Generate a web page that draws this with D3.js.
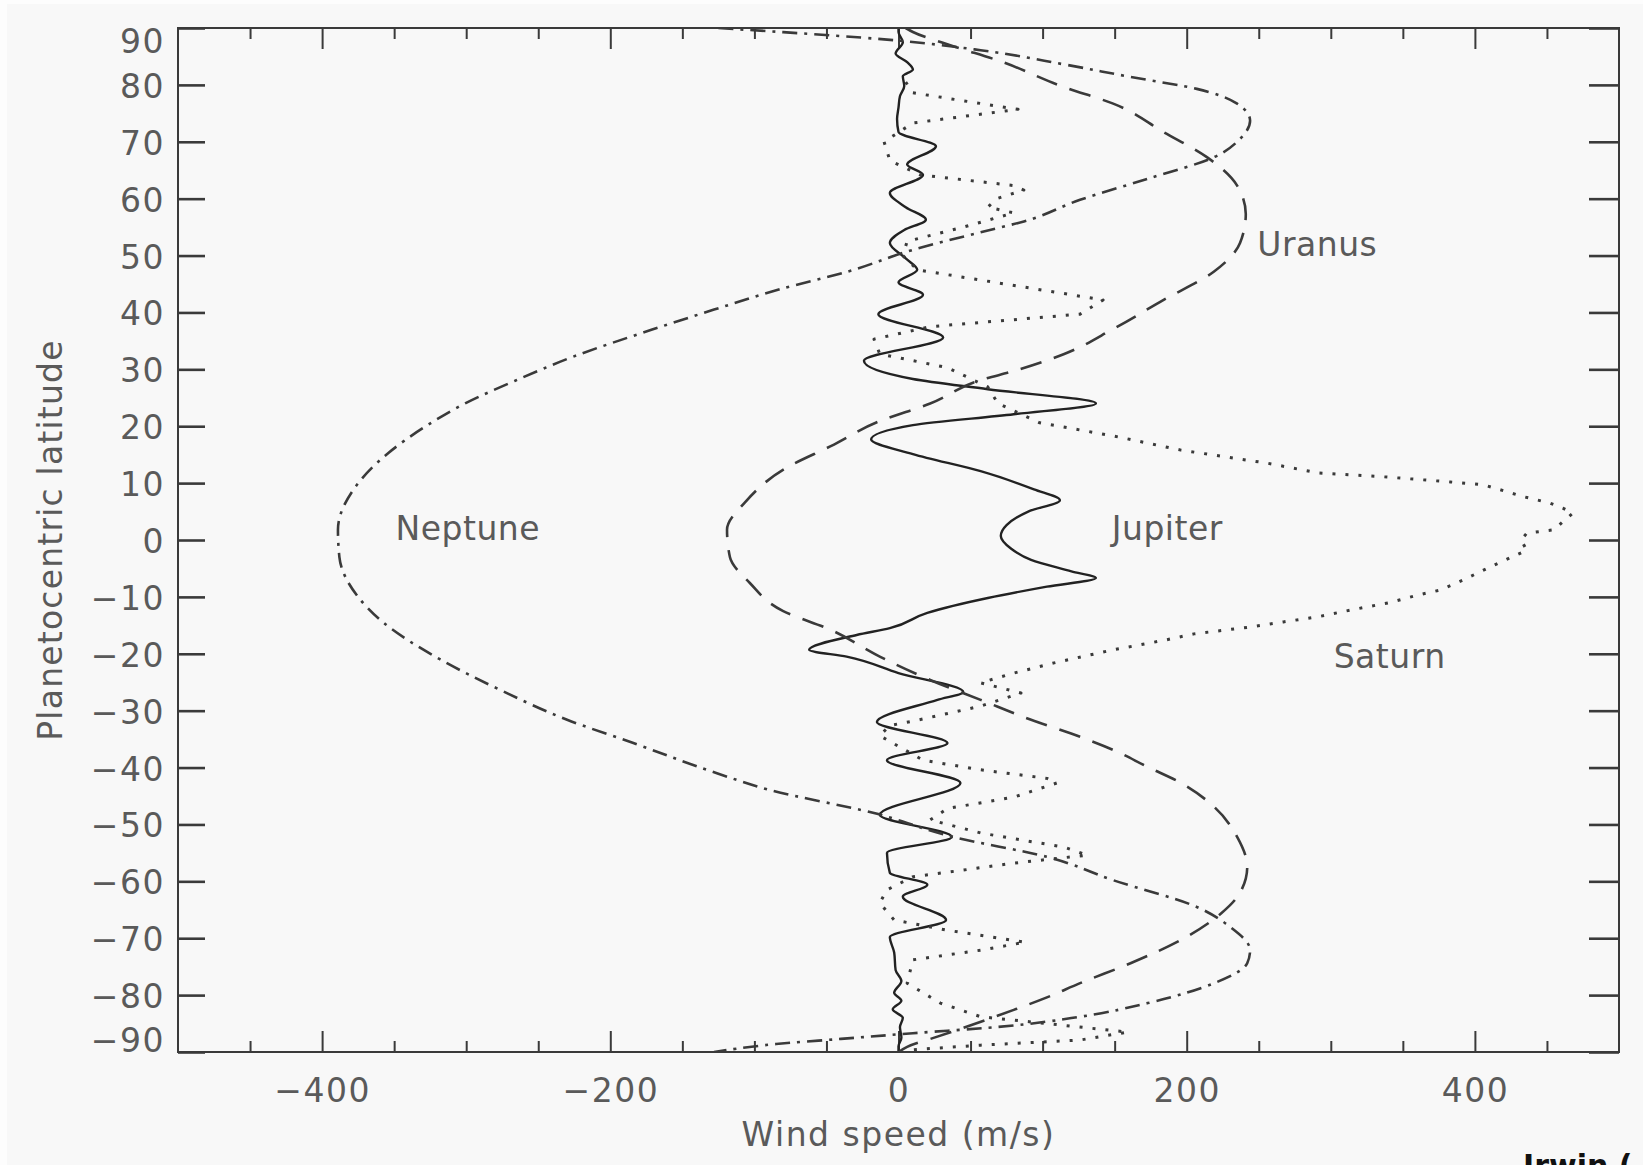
<!DOCTYPE html>
<html><head><meta charset="utf-8">
<script src="https://cdn.jsdelivr.net/npm/d3@7"></script>
<style>
html,body{margin:0;padding:0;background:#fdfdfd;}
svg{display:block;}
text{font-family:"DejaVu Sans",sans-serif;}
</style></head><body>
<svg id="chart" width="1643" height="1165"></svg>
<script>
// Zonal wind profiles of the giant planets.
// Latitudes are planetocentric degrees, speeds are eastward wind in m/s.
const jupiterLat = [90, 89.3, 87.5, 85.5, 84, 82.7, 81.5, 79.8, 78, 76, 74, 71.7, 69.2, 66, 64.2, 61, 58.5, 56.3, 54.5, 52.2, 49.5, 47.5, 45.3, 43.1, 39.7, 35.6, 31.5, 28.3, 26.5, 24, 22.1, 20.2, 17.7, 15.1, 12.1, 8.9, 7, 5, 2.6, 0.7, -1.5, -3.5, -5.5, -6.7, -8.2, -10.2, -12.8, -15.5, -16.7, -19.3, -20.5, -23.4, -26.7, -28.1, -32, -35.7, -38.7, -42.7, -48.3, -52.2, -55, -58.5, -60.6, -62.7, -66.8, -69.8, -72.5, -75.6, -77.5, -79.6, -81, -82.5, -84, -85.6, -87.5, -89, -90];
const jupiterU = [0, 0, 3, -2, 6, 10, 3, 4, 1, 0, -1, 0, 26, 6, 17, -6, 5, 19, 4, -6, 5, 13, 0, 17, -14, 31, -24, 10, 62, 137, 80, 10, -19, 10, 57, 94, 112, 90, 75, 71, 78, 92, 120, 137, 103, 62, 20, -6, -29, -62, -36, 0, 45, 27, -15, 34, -8, 43, -13, 37, -8, -6, 20, 3, 33, -6, -3, -2, 2, -3, 2, -4, 3, 1, 2, 0, 0];

const saturnLat = [80.5, 78.6, 75.7, 73.3, 70, 66.7, 64.2, 62.3, 61.5, 60, 58.5, 57.5, 55, 52.5, 50, 47.5, 42.2, 39.7, 37.5, 35.3, 32.7, 30.3, 26.9, 24, 20.6, 18.3, 15.8, 13.5, 11.8, 11.1, 10.2, 9.7, 7.6, 6.5, 5.6, 4.7, 3.2, 1.8, 1.2, 0, -1.8, -2.6, -4.7, -7, -8.8, -9.7, -11, -12.3, -13.5, -14.4, -15.3, -16.5, -17.6, -19.3, -21.6, -23.4, -25.1, -26.9, -29.2, -31.8, -32.6, -34.4, -38.7, -40.4, -41.9, -42.7, -45.2, -47.2, -49.2, -51.5, -54, -55.4, -56.8, -58.4, -59.2, -61.5, -63.8, -66.8, -68.6, -70.7, -72.1, -73.8, -77.9, -81.4, -83.8, -85, -86.5, -87.9, -88.8, -89.6];
const saturnU = [5, 10, 83, 10, -10, -6, 15, 80, 87, 68, 62, 80, 45, 6, 3, 13, 142, 126, 22, -17, -13, 34, 62, 69, 98, 149, 196, 256, 291, 337, 383, 406, 434, 452, 461, 468, 461, 455, 436, 432, 436, 429, 411, 392, 376, 360, 341, 314, 291, 267, 244, 205, 185, 149, 108, 80, 57, 85, 57, 11, -6, -13, 17, 57, 103, 110, 80, 34, 22, 57, 115, 131, 80, 34, 10, -8, -13, -3, 34, 88, 57, 10, 6, 29, 57, 103, 159, 126, 57, 10];

const uranusLat = [90, 89.3, 86.8, 84.3, 79.6, 76.7, 71.7, 67.3, 62.3, 57.3, 52.2, 47.2, 42.2, 37.1, 32.7, 29.7, 28.1, 24, 20.9, 16.5, 12.8, 6.5, 1.8, -3, -7.6, -12.5, -15.8, -20.5, -24.6, -28.1, -31.6, -34.6, -36.9, -39.9, -42.7, -46.9, -52.2, -57.5, -62, -65.6, -70.3, -74.4, -77.9, -80.4, -82.6, -87.3, -89.1, -90];
const uranusU = [5, 10, 38, 69, 115, 149, 184, 214, 235, 241, 237, 219, 184, 149, 115, 80, 57, 22, -13, -47, -77, -107, -119, -117, -103, -80, -47, -13, 22, 57, 92, 126, 149, 173, 196, 219, 235, 242, 237, 224, 196, 161, 126, 103, 80, 27, 6, 0];

const neptuneLat = [90, 89.3, 88, 86.1, 83.6, 81.4, 79.3, 76.7, 73.7, 70.5, 67.3, 63.5, 59.8, 56, 54.1, 51, 47.2, 44.1, 40.5, 36.9, 32.2, 28, 24.1, 20, 15.3, 9.3, 1.8, -3, -10, -14.6, -21, -26.4, -31.6, -35.7, -41, -43.9, -48, -52.2, -55.7, -59.8, -64.5, -68, -72.1, -74.4, -77.9, -81.4, -83.8, -85.6, -86.7, -87.7, -88.6, -89.4, -90];
const neptuneU = [-125, -82, -10, 57, 115, 161, 207, 235, 244, 237, 219, 173, 126, 87, 57, 10, -35, -82, -128, -172, -226, -266, -300, -328, -354, -377, -389, -388, -375, -357, -318, -276, -230, -184, -126, -90, -17, 38, 103, 149, 207, 230, 244, 242, 219, 173, 126, 69, 10, -40, -85, -112, -128];

const planetNames = ["Jupiter", "Saturn", "Uranus", "Neptune"];
const labelSpeed = [148, 302, 249, -349];
const labelLat = [0, -22.5, 50, 0];

const xMajorTicks = [-400, -200, 0, 200, 400];
const xMinorTicks = d3.range(-450, 500, 50).filter(v => v % 200 !== 0);
const yTicks = d3.range(-90, 91, 10);

(function draw() {
  const svg = d3.select("#chart");
  const W = 1643, H = 1165;
  const plotLeft = 178, plotRight = 1619, plotTop = 28, plotBottom = 1052;

  svg.append("rect").attr("x", 7).attr("y", 4).attr("width", W - 7).attr("height", H - 4).attr("fill", "#f8f8f8");

  const x = d3.scaleLinear().domain([-500, 500]).range([plotLeft, plotRight]);
  const y = d3.scaleLinear().domain([-90, 90]).range([plotBottom, plotTop]);

  const ink = "#3a3a3a";
  const labelInk = "#5a5a5a";

  svg.append("defs").append("clipPath").attr("id", "plotClip")
    .append("rect").attr("x", plotLeft).attr("y", plotTop)
    .attr("width", plotRight - plotLeft).attr("height", plotBottom - plotTop);

  // Minor and major ticks on all four sides, pointing inward
  function styleAxis(g, width) {
    g.select(".domain").remove();
    g.selectAll(".tick line").attr("stroke", ink).attr("stroke-width", width);
  }
  svg.append("g").attr("transform", `translate(0,${plotBottom})`)
    .call(d3.axisBottom(x).tickValues(xMinorTicks).tickSize(-11).tickFormat(""))
    .call(g => styleAxis(g, 2));
  svg.append("g").attr("transform", `translate(0,${plotTop})`)
    .call(d3.axisTop(x).tickValues(xMinorTicks).tickSize(-11).tickFormat(""))
    .call(g => styleAxis(g, 2));
  svg.append("g").attr("transform", `translate(0,${plotTop})`)
    .call(d3.axisTop(x).tickValues(xMajorTicks).tickSize(-21).tickFormat(""))
    .call(g => styleAxis(g, 2));

  const fmt = v => (v < 0 ? "\u2212" : "") + Math.abs(v);

  const xAxis = svg.append("g").attr("transform", `translate(0,${plotBottom})`)
    .call(d3.axisBottom(x).tickValues(xMajorTicks).tickSize(-21).tickPadding(27).tickFormat(fmt))
    .call(g => styleAxis(g, 2));
  xAxis.selectAll(".tick text").attr("fill", labelInk).attr("font-size", 33)
    .attr("font-family", "DejaVu Sans").style("letter-spacing", "1.5px");

  const yAxis = svg.append("g").attr("transform", `translate(${plotLeft},0)`)
    .call(d3.axisLeft(y).tickValues(yTicks).tickSize(-27).tickPadding(13).tickFormat(fmt))
    .call(g => styleAxis(g, 2.6));
  yAxis.selectAll(".tick text").attr("fill", labelInk).attr("font-size", 33)
    .attr("font-family", "DejaVu Sans").style("letter-spacing", "1.5px")
    .attr("dy", d => d === 90 ? "0.75em" : d === -90 ? "-0.02em" : "0.38em");

  svg.append("g").attr("transform", `translate(${plotRight},0)`)
    .call(d3.axisRight(y).tickValues(yTicks).tickSize(-30).tickFormat(""))
    .call(g => styleAxis(g, 2.6));

  // Axis titles
  svg.append("text").attr("x", x(0)).attr("y", 1146).attr("text-anchor", "middle")
    .attr("font-size", 33).attr("fill", labelInk).style("letter-spacing", "1.5px")
    .text("Wind speed (m/s)");
  svg.append("text").attr("transform", `translate(62,${(plotTop + plotBottom) / 2}) rotate(-90)`)
    .attr("text-anchor", "middle").attr("font-size", 33).attr("fill", labelInk)
    .style("letter-spacing", "1.2px").text("Planetocentric latitude");

  // Profiles
  const profiles = [
    {lat: jupiterLat, u: jupiterU, dash: null, width: 2.4, color: "#222", curve: d3.curveMonotoneY},
    {lat: saturnLat, u: saturnU, dash: "3,10", width: 3, color: ink, curve: d3.curveLinear},
    {lat: uranusLat, u: uranusU, dash: "22,13", width: 2.6, color: ink, curve: d3.curveMonotoneY},
    {lat: neptuneLat, u: neptuneU, dash: "15,7,3,7", width: 2.6, color: ink, curve: d3.curveMonotoneY}
  ];
  const plot = svg.append("g").attr("clip-path", "url(#plotClip)");
  profiles.forEach(p => {
    const pts = p.lat.map((la, i) => [p.u[i], la]);
    const line = d3.line().x(d => x(d[0])).y(d => y(d[1])).curve(p.curve);
    plot.append("path").datum(pts)
      .attr("d", line)
      .attr("fill", "none")
      .attr("stroke", p.color)
      .attr("stroke-width", p.width)
      .attr("stroke-linejoin", "round")
      .attr("stroke-dasharray", p.dash);
  });

  // Planet names
  planetNames.forEach((name, i) => {
    svg.append("text").attr("x", x(labelSpeed[i])).attr("y", y(labelLat[i]))
      .attr("font-size", 33).attr("fill", labelInk).style("letter-spacing", "0.5px").text(name);
  });

  // Frame
  svg.append("rect").attr("x", plotLeft).attr("y", plotTop)
    .attr("width", plotRight - plotLeft).attr("height", plotBottom - plotTop)
    .attr("fill", "none").attr("stroke", ink).attr("stroke-width", 2);

  // Source credit in the lower right corner, running off the bottom edge
  svg.append("text").attr("x", 1523).attr("y", 1176).attr("font-size", 30)
    .attr("font-family", "Liberation Sans").attr("font-weight", "bold").attr("fill", "#111")
    .text("Irwin (");
})();
</script>
</body></html>
